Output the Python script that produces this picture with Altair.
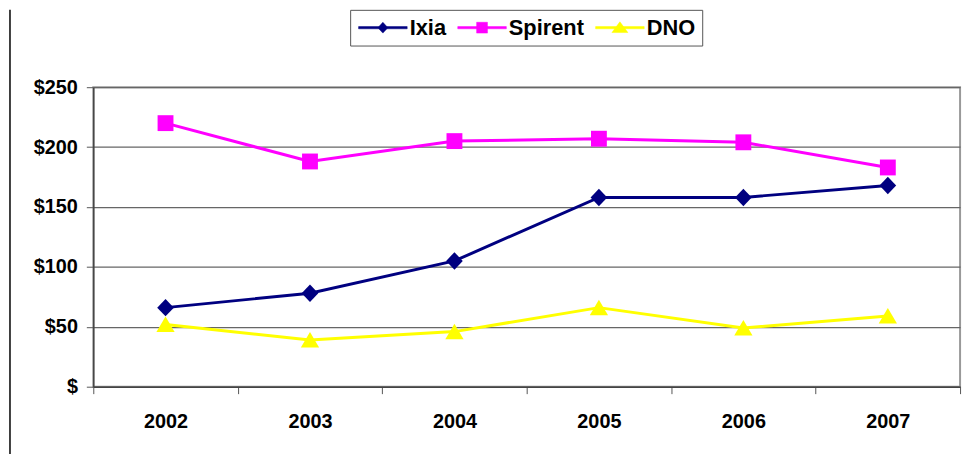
import altair as alt
import pandas as pd

years = ["2002", "2003", "2004", "2005", "2006", "2007"]
series = ["Ixia", "Spirent", "DNO"]
ixia = [66, 78, 105, 158, 158, 168]
spirent = [220, 188, 205, 207, 204, 183]
dno = [52, 39, 46, 66, 49, 59]
colors = ["#000080", "#FF00FF", "#FFFF00"]
shapes = ["M-1.05,0L0,-1.1L1.05,0L0,1.1Z", "square", "M0,-1L1.15,0.95L-1.15,0.95Z"]
y_ticks = [0, 50, 100, 150, 200, 250]

rows = []
for name, vals in zip(series, [ixia, spirent, dno]):
    for yr, v in zip(years, vals):
        rows.append({"year": yr, "series": name, "marker": name, "value": v})
df = pd.DataFrame(rows)

BAR = "M-3.5,-0.16L3.5,-0.16L3.5,0.16L-3.5,0.16Z"
legend_paths = {
    "Ixia": BAR + "M-0.72,0L0,-0.78L0.72,0L0,0.78Z",
    "Spirent": BAR + "M-0.78,-0.78L0.78,-0.78L0.78,0.78L-0.78,0.78Z",
    "DNO": BAR + "M0,-0.85L1.15,0.7L-1.15,0.7Z",
}
shape_signal = (
    f"datum.value === 'Ixia' ? '{legend_paths['Ixia']}' : "
    f"datum.value === 'Spirent' ? '{legend_paths['Spirent']}' : '{legend_paths['DNO']}'"
)

FONT = "Liberation Sans"

x_enc = alt.X(
    "year:N",
    sort=years,
    bandPosition=0.5,
    scale=alt.Scale(type="band", paddingInner=0, paddingOuter=0),
    axis=alt.Axis(
        title=None, labelAngle=0, tickBand="extent", grid=False,
        labelFont=FONT, labelFontSize=20, labelFontWeight="bold", labelColor="black",
        labelPadding=18, tickSize=7, tickColor="#555", domainColor="#444", domainWidth=1.5,
    ),
)
y_enc = alt.Y(
    "value:Q",
    scale=alt.Scale(domain=[0, 250], nice=False),
    axis=alt.Axis(
        title=None, values=y_ticks, grid=True, gridColor="#666", gridWidth=1.2,
        labelExpr="datum.value == 0 ? '$' : '$' + datum.value",
        labelFont=FONT, labelFontSize=20, labelFontWeight="bold", labelColor="black",
        labelPadding=9, tickSize=7, tickColor="#555", domainColor="#444", domainWidth=1.5,
    ),
)
color_enc = alt.Color(
    "series:N",
    sort=series,
    scale=alt.Scale(domain=series, range=colors),
    legend=alt.Legend(
        title=None, orient="none", direction="horizontal",
        legendX=259, legendY=-78,
        strokeColor="#555", fillColor="white", padding=7,
        labelFont=FONT, labelFontSize=22, labelFontWeight="bold", labelColor="black",
        symbolSize=196, symbolOffset=15, labelOffset=16, columnPadding=10,
        symbolType={"expr": shape_signal},
        symbolFillColor={"expr": "scale('color', datum.value)"},
        symbolStrokeColor={"expr": "scale('color', datum.value)"},
        symbolStrokeWidth=0.5, symbolOpacity=1,
    ),
)

base = alt.Chart(df)
lines = base.mark_line(strokeWidth=3).encode(x=x_enc, y=y_enc, color=color_enc)
points = base.mark_point(filled=True, size=256, opacity=1).encode(
    x=x_enc, y=y_enc,
    fill=alt.Fill("marker:N", sort=series, scale=alt.Scale(range=colors), legend=None),
    shape=alt.Shape("marker:N", sort=series, scale=alt.Scale(range=shapes), legend=None),
)
frame = alt.Chart(pd.DataFrame({"a": [0]})).mark_rule(color="black", strokeWidth=1.5).encode(
    x=alt.value(-84), y=alt.value(-78), y2=alt.value(380)
)

chart = (
    alt.layer(frame, lines, points)
    .properties(
        width=874, height=302,
        autosize=alt.AutoSizeParams(type="none"),
        padding={"left": 86, "top": 78, "right": 8, "bottom": 66},
    )
    .configure_view(stroke="#999", strokeWidth=2)
)

chart.save("out.html", embed_options={"renderer": "svg", "actions": False})
